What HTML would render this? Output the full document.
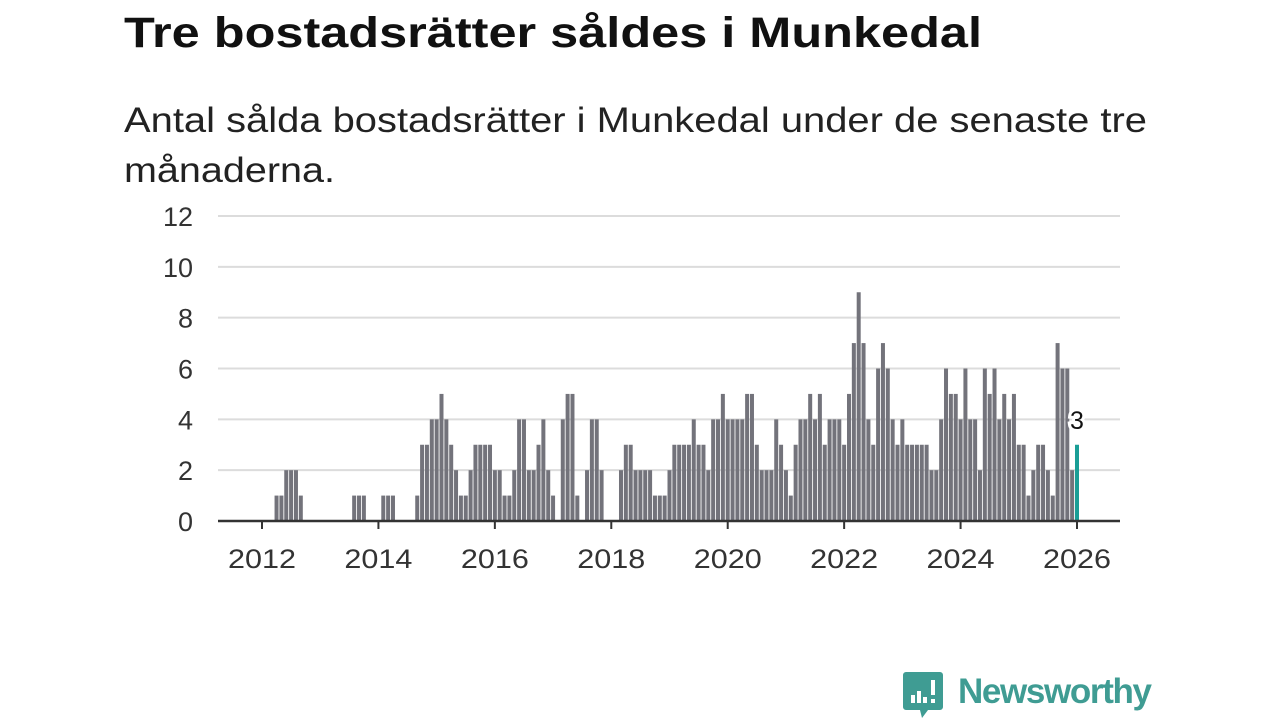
<!DOCTYPE html>
<html><head><meta charset="utf-8">
<style>
html,body{margin:0;padding:0;background:#fff;}
body{width:1280px;height:720px;overflow:hidden;position:relative;font-family:"Liberation Sans",sans-serif;}
svg{position:absolute;left:0;top:0;}
</style></head>
<body>
<svg id="chart" width="1280" height="720">
<text x="124" y="47" font-size="43" font-weight="bold" fill="#111" textLength="858" lengthAdjust="spacingAndGlyphs" font-family="Liberation Sans, sans-serif">Tre bostadsrätter såldes i Munkedal</text>
<text x="124" y="132" font-size="35" fill="#222" textLength="1023" lengthAdjust="spacingAndGlyphs" font-family="Liberation Sans, sans-serif">Antal sålda bostadsrätter i Munkedal under de senaste tre</text>
<text x="124" y="182" font-size="35" fill="#222" textLength="211" lengthAdjust="spacingAndGlyphs" font-family="Liberation Sans, sans-serif">månaderna.</text>
</svg>
<script>
const startYear = 2011, startMonth = 3; // April 2011 (0-based month)
const values = [
0,0,0,0,0,0,0,0,0,
0,0,0,1,1,2,2,2,1,0,0,0,
0,0,0,0,0,0,0,1,1,1,0,0,
0,1,1,1,0,0,0,0,1,3,3,4,
4,5,4,3,2,1,1,2,3,3,3,3,
2,2,1,1,2,4,4,2,2,3,4,2,
1,0,4,5,5,1,0,2,4,4,2,0,
0,0,2,3,3,2,2,2,2,1,1,1,
2,3,3,3,3,4,3,3,2,4,4,5,
4,4,4,4,5,5,3,2,2,2,4,3,
2,1,3,4,4,5,4,5,3,4,4,4,
3,5,7,9,7,4,3,6,7,6,4,3,
4,3,3,3,3,3,2,2,4,6,5,5,
4,6,4,4,2,6,5,6,4,5,4,5,
3,3,1,2,3,3,2,1,7,6,6,2,
3];
const yTicks = [0,2,4,6,8,10,12];
const xTickYears = [2012,2014,2016,2018,2020,2022,2024,2026];

const NS="http://www.w3.org/2000/svg";
const svg=document.getElementById('chart');
const plotL=218, plotR=1120, y0=521, y12=216;
const x0=262, pxPerMonth=(1077-262)/168;
function xScale(monthsSince2012){return x0+monthsSince2012*pxPerMonth;}
function yScale(v){return y0-(v/12)*(y0-y12);}
function mk(tag,attrs){const e=document.createElementNS(NS,tag);for(const k in attrs)e.setAttribute(k,attrs[k]);svg.appendChild(e);return e;}

yTicks.forEach(t=>{
  const y=yScale(t);
  if(t>0){const g=mk('line',{x1:plotL,x2:plotR,y1:y,y2:y,stroke:'#dcdcdc','stroke-width':2});
  
  }
  const tx=mk('text',{x:193,y:y+10,'text-anchor':'end','font-size':27,fill:'#333','font-family':'Liberation Sans, sans-serif'});
  tx.textContent=t;
  
  
});

const offset=(startYear-2012)*12+startMonth;
values.forEach((v,i)=>{
  const m=offset+i;
  const cx=xScale(m);
  const last=i===values.length-1;
  if(v<=0) return;
  const r=mk('rect',{x:cx-2,y:yScale(v),width:4,height:y0-yScale(v),fill:last?'#1a9e96':'#73737b'});
  
  
  if(last){
    const lb=mk('text',{x:cx,y:yScale(v)-16,'text-anchor':'middle','font-size':25,fill:'#111',stroke:'#fff','stroke-width':6,'paint-order':'stroke','font-family':'Liberation Sans, sans-serif'});
    lb.textContent=v;
    
    
  }
});

const ax=mk('line',{x1:plotL,x2:plotR,y1:y0,y2:y0,stroke:'#333','stroke-width':2.5});


xTickYears.forEach(yr=>{
  const x=xScale((yr-2012)*12);
  const tk=mk('line',{x1:x,x2:x,y1:y0,y2:y0+8,stroke:'#333','stroke-width':2});
  
  
  const tx=mk('text',{x:x,y:568,'text-anchor':'middle','font-size':27,fill:'#333','font-family':'Liberation Sans, sans-serif',textLength:68,lengthAdjust:'spacingAndGlyphs'});
  tx.textContent=yr;
  
  
});

// logo
const lg=mk('g',{});


const ic=document.createElementNS(NS,'path');
ic.setAttribute('d','M906 672 h34 a3 3 0 0 1 3 3 v32 a3 3 0 0 1 -3 3 h-12 l-6 8 l-2 -8 h-14 a3 3 0 0 1 -3 -3 v-32 a3 3 0 0 1 3 -3z');
ic.setAttribute('fill','#3f9c93');
lg.appendChild(ic);
[[911,695,4,8],[917,691,4,12],[923,697,4,6],[931,680,4,15],[931,699,4,4]].forEach(b=>{
  const r=document.createElementNS(NS,'rect');
  r.setAttribute('x',b[0]);r.setAttribute('y',b[1]);r.setAttribute('width',b[2]);r.setAttribute('height',b[3]);r.setAttribute('fill','#fff');
  lg.appendChild(r);
});
const lt=mk('text',{x:958,y:703,'font-size':35,'font-weight':'bold',fill:'#3f9c93','font-family':'Liberation Sans, sans-serif',textLength:194});
lt.textContent='Newsworthy';


</script>
</body></html>
